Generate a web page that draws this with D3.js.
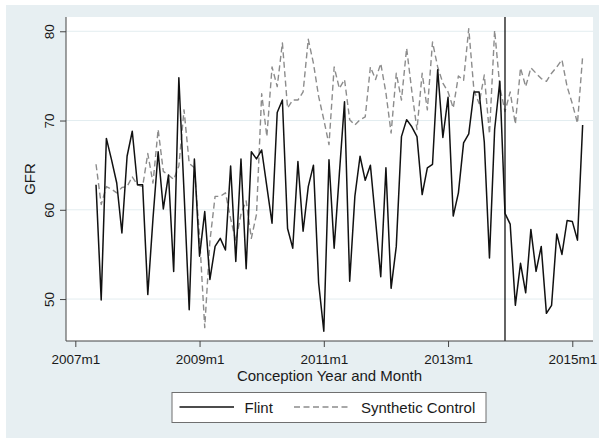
<!DOCTYPE html>
<html>
<head>
<meta charset="utf-8">
<script src="https://cdn.jsdelivr.net/npm/d3@7"></script>
<style>
  body { margin: 0; background: #ffffff; }
  text { font-family: "Liberation Sans", Arial, Helvetica, sans-serif; fill: #1a1a1a; }
</style>
</head>
<body>
<svg id="chart" width="599" height="438"></svg>
<script>
// Months are counted from 2007m1 = 0; both series start at 2007m5.
const startMonth = 4;

// General fertility rate, Flint
const flint = [
  62.8, 49.9, 68.0, 65.6, 63.0, 57.4, 66.0, 68.8, 62.8, 62.8,
  50.5, 59.0, 66.5, 60.1, 63.9, 53.1, 74.8, 62.0, 48.8, 65.7,
  54.8, 59.8, 52.2, 55.9, 56.8, 55.5, 64.9, 54.2, 65.7, 53.4,
  66.5, 65.7, 66.7, 62.6, 58.5, 70.9, 72.3, 57.9, 55.7, 65.4,
  57.6, 62.6, 65.0, 51.8, 46.4, 65.6, 55.7, 64.0, 72.1, 52.0,
  61.5, 66.0, 63.3, 65.0, 58.8, 52.5, 64.7, 51.2, 55.9, 68.2,
  70.1, 69.3, 68.2, 61.7, 64.7, 65.1, 75.7, 68.1, 72.6, 59.3,
  61.9, 67.5, 68.5, 73.2, 73.2, 67.6, 54.6, 69.0, 74.4, 59.6,
  58.4, 49.3, 54.0, 50.7, 57.8, 53.1, 55.9, 48.4, 49.3, 57.3,
  55.0, 58.8, 58.7, 56.6, 69.5
];

// General fertility rate, synthetic control
const synthetic = [
  65.1, 60.6, 62.6, 62.3, 61.9, 62.5, 62.6, 63.7, 62.8, 62.6,
  66.3, 63.0, 69.0, 64.3, 63.9, 63.4, 64.9, 71.2, 65.2, 64.7,
  57.0, 46.8, 56.5, 61.5, 61.5, 61.9, 59.0, 56.5, 59.5, 61.0,
  56.8, 59.5, 73.0, 68.2, 76.0, 73.8, 78.7, 71.4, 72.3, 72.3,
  73.2, 79.1, 76.4, 72.7, 70.1, 67.3, 76.0, 73.6, 74.6, 70.1,
  69.5, 70.1, 70.4, 76.0, 74.6, 76.4, 73.1, 68.6, 75.3, 72.3,
  78.1, 73.3, 69.0, 75.3, 71.2, 78.8, 76.0, 74.2, 73.2, 71.4,
  75.0, 74.5, 80.3, 73.4, 71.9, 75.1, 68.5, 80.1, 73.8, 71.0,
  73.2, 69.6, 75.9, 73.8, 75.9, 75.3, 74.7, 74.4, 75.3, 76.0,
  76.8, 73.8, 71.9, 69.7, 77.2
];

const xTickMonths = [0, 24, 48, 72, 96];
const xTickLabels = ["2007m1", "2009m1", "2011m1", "2013m1", "2015m1"];
const yTicks = [50, 60, 70, 80];
const eventMonth = 83; // 2013m12 reference line

const seriesNames = ["Flint", "Synthetic Control"];

const svg = d3.select("#chart");
const W = 599, H = 438;

// Outer graph region
svg.append("rect").attr("x", 6).attr("y", 5).attr("width", W - 6).attr("height", H - 5)
  .attr("fill", "#e7eff2");

const plot = { left: 66, right: 593, top: 17, bottom: 341 };

svg.append("rect")
  .attr("x", plot.left).attr("y", plot.top)
  .attr("width", plot.right - plot.left).attr("height", plot.bottom - plot.top)
  .attr("fill", "#ffffff");

const x = d3.scaleLinear().domain([-1.8, 100]).range([plot.left, plot.right]);
const y = d3.scaleLinear().domain([45.3, 81.6]).range([plot.bottom, plot.top]);

// Gridlines
svg.append("g").selectAll("line").data(yTicks).join("line")
  .attr("x1", plot.left).attr("x2", plot.right)
  .attr("y1", d => y(d)).attr("y2", d => y(d))
  .attr("stroke", "#e3edf0").attr("stroke-width", 1);

const months = d3.range(startMonth, startMonth + flint.length);
const rows = months.map((m, i) => ({ m, flint: flint[i], synth: synthetic[i] }));

const lineFlint = d3.line().x(d => x(d.m)).y(d => y(d.flint));
const lineSynth = d3.line().x(d => x(d.m)).y(d => y(d.synth));

svg.append("path").datum(rows).attr("d", lineSynth)
  .attr("fill", "none").attr("stroke", "#8c8c8c").attr("stroke-width", 1.4)
  .attr("stroke-dasharray", "6,3.5").attr("stroke-linejoin", "round");

svg.append("path").datum(rows).attr("d", lineFlint)
  .attr("fill", "none").attr("stroke", "#111111").attr("stroke-width", 1.5)
  .attr("stroke-linejoin", "round");

// Reference line
svg.append("line")
  .attr("x1", x(eventMonth)).attr("x2", x(eventMonth))
  .attr("y1", plot.top).attr("y2", plot.bottom)
  .attr("stroke", "#111111").attr("stroke-width", 1.3);

// Y axis
const yAxis = d3.axisLeft(y).tickValues(yTicks).tickSize(6).tickFormat(d3.format("d"));
const gy = svg.append("g").attr("transform", `translate(${plot.left},0)`).call(yAxis);
gy.select(".domain").attr("stroke", "#444").attr("d", `M0,${plot.top}V${plot.bottom}`);
gy.selectAll(".tick line").attr("stroke", "#444");
gy.selectAll(".tick text")
  .attr("x", null).attr("dy", null)
  .attr("transform", "translate(-12.5,0) rotate(-90)")
  .attr("text-anchor", "middle")
  .style("font-size", "13.5px").style("font-family", '"Liberation Sans", Arial, sans-serif')
  .attr("fill", "#1a1a1a");

// X axis
const xAxis = d3.axisBottom(x).tickValues(xTickMonths).tickSize(6)
  .tickFormat((d, i) => xTickLabels[i]);
const gx = svg.append("g").attr("transform", `translate(0,${plot.bottom})`).call(xAxis);
gx.select(".domain").attr("stroke", "#444").attr("d", `M${plot.left},0H${plot.right}`);
gx.selectAll(".tick line").attr("stroke", "#444");
gx.selectAll(".tick text")
  .attr("y", 22.5).attr("dy", null)
  .style("font-size", "13.5px").style("font-family", '"Liberation Sans", Arial, sans-serif')
  .attr("fill", "#1a1a1a");

// Axis titles
const midX = (plot.left + plot.right) / 2;
svg.append("text").attr("x", midX).attr("y", 380.5).attr("text-anchor", "middle")
  .style("font-size", "15px").text("Conception Year and Month");
svg.append("text").attr("transform", `translate(35,${(plot.top + plot.bottom) / 2}) rotate(-90)`)
  .attr("text-anchor", "middle").style("font-size", "15px").text("GFR");

// Legend
const leg = svg.append("g");
leg.append("rect").attr("x", 172).attr("y", 392.5).attr("width", 314).attr("height", 30)
  .attr("fill", "#ffffff").attr("stroke", "#6f6f6f").attr("stroke-width", 1);
leg.append("line").attr("x1", 179.5).attr("x2", 234).attr("y1", 407).attr("y2", 407)
  .attr("stroke", "#111111").attr("stroke-width", 1.5);
leg.append("text").attr("x", 244.5).attr("y", 412.5).style("font-size", "15px").text(seriesNames[0]);
leg.append("line").attr("x1", 294).attr("x2", 351).attr("y1", 407).attr("y2", 407)
  .attr("stroke", "#8c8c8c").attr("stroke-width", 1.4).attr("stroke-dasharray", "6,3.5");
leg.append("text").attr("x", 361).attr("y", 412.5).style("font-size", "15px").text(seriesNames[1]);
</script>
</body>
</html>
